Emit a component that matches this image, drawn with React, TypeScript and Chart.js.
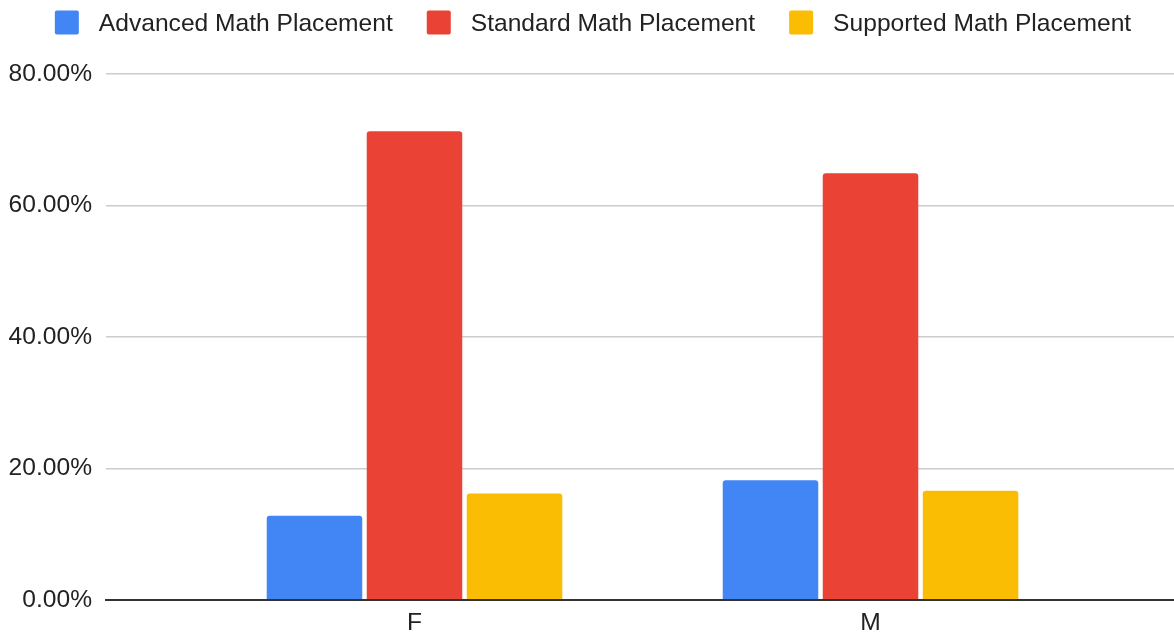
import React, { useEffect, useRef } from "react";
import { Chart, registerables } from "chart.js";

Chart.register(...registerables);

// ---- data ----
const categories = ["F", "M"];
const seriesNames = ["Advanced Math Placement", "Standard Math Placement", "Supported Math Placement"];
const advanced = [12.8, 18.2];
const standard = [71.3, 64.9];
const supported = [16.2, 16.6];
const seriesColors = ["#4285F4", "#EA4335", "#FBBC04"];
const yTicks = [0, 20, 40, 60, 80];

const FONT = '"Liberation Sans", Arial, Helvetica, sans-serif';
const FONT_SIZE = 24.6;
const TEXT_COLOR = "#222222";

const legendPlugin = {
  id: "topLegend",
  afterDraw(chart: any) {
    const ctx = chart.ctx as CanvasRenderingContext2D;
    ctx.save();
    ctx.font = `${FONT_SIZE}px ${FONT}`;
    const boxSize = 24;
    const boxToText = 44;
    const gap = 34;
    const items = chart.data.datasets.map((d: any) => ({
      text: d.label as string,
      color: d.backgroundColor as string,
      w: ctx.measureText(d.label).width,
    }));
    const total =
      items.reduce((a: number, it: any) => a + boxToText + it.w, 0) + gap * (items.length - 1);
    let x = 593 - total / 2;
    for (const it of items) {
      ctx.fillStyle = it.color;
      ctx.beginPath();
      if ((ctx as any).roundRect) (ctx as any).roundRect(x, 10.5, boxSize, boxSize, 2);
      else ctx.rect(x, 10.5, boxSize, boxSize);
      ctx.fill();
      ctx.fillStyle = TEXT_COLOR;
      ctx.textBaseline = "alphabetic";
      ctx.textAlign = "left";
      ctx.fillText(it.text, x + boxToText, 31);
      x += boxToText + it.w + gap;
    }
    ctx.restore();
  },
};

export default function App() {
  const ref = useRef<HTMLCanvasElement | null>(null);

  useEffect(() => {
    if (!ref.current) return;
    const values = [advanced, standard, supported];
    const chart = new Chart(ref.current, {
      type: "bar",
      data: {
        labels: categories,
        datasets: seriesNames.map((name, i) => ({
          label: name,
          data: values[i],
          backgroundColor: seriesColors[i],
          borderWidth: 0,
          borderRadius: 3,
          barPercentage: 0.955,
          categoryPercentage: 0.658,
        })),
      },
      options: {
        responsive: false,
        animation: false,
        layout: { padding: { top: 74, left: 0, right: 0, bottom: 0 } },
        plugins: {
          legend: { display: false },
          tooltip: { enabled: false },
        },
        scales: {
          x: {
            offset: true,
            grid: { display: false, drawTicks: false },
            border: { display: true, color: "#333333", width: 2 },
            ticks: {
              color: TEXT_COLOR,
              font: { family: FONT, size: FONT_SIZE },
              padding: 8,
            },
            afterFit: (s: any) => {
              s.height = 35;
            },
            afterBuildTicks: (s: any) => {
              s._startValue = -0.6765;
              s._valueRange = 2.342;
            },
          },
          y: {
            min: 0,
            max: 80,
            afterBuildTicks: (s: any) => {
              s.ticks = yTicks.map((v) => ({ value: v }));
            },
            grid: {
              drawTicks: false,
              color: (c: any) => (c.tick && c.tick.value === 0 ? "#333333" : "#cccccc"),
              lineWidth: (c: any) => (c.tick && c.tick.value === 0 ? 2 : 1.5),
            },
            border: { display: false },
            ticks: {
              color: TEXT_COLOR,
              font: { family: FONT, size: FONT_SIZE },
              padding: 14,
              callback: (v: any) => Number(v).toFixed(2) + "%",
            },
            afterFit: (s: any) => {
              s.width = 106;
            },
          },
        },
      },
      plugins: [legendPlugin],
    });
    return () => chart.destroy();
  }, []);

  return (
    <div style={{ position: "absolute", left: 0, top: 0, width: 1174, height: 635, background: "#fff" }}>
      <canvas ref={ref} width={1174} height={635} style={{ display: "block" }} />
    </div>
  );
}
